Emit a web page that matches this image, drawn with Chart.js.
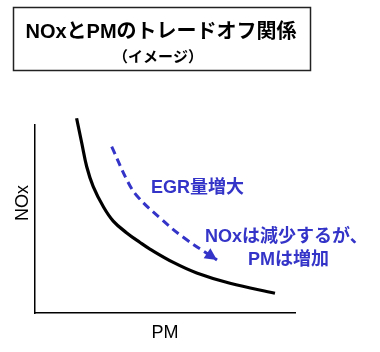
<!DOCTYPE html>
<html>
<head>
<meta charset="utf-8">
<script src="https://cdn.jsdelivr.net/npm/chart.js@4/dist/chart.umd.min.js"></script>
<style>
  html, body { margin: 0; padding: 0; background: #ffffff; }
  #wrap { width: 380px; height: 352px; }
</style>
</head>
<body>
<div id="wrap"><canvas id="c" width="380" height="352"></canvas></div>
<script>
// ---- data (arbitrary "image" units 0-100) ----
const curvePM  = [16.0, 18.0, 19.9, 22.4, 26.3, 30.1, 35.3, 40.4, 44.2, 53.2, 62.2, 75.0, 92.3];
const curveNOx = [103.6, 90.3, 77.8, 67.2, 56.5, 48.9, 42.6, 37.5, 34.0, 26.9, 21.3, 15.8, 10.5];
const arrowPM  = [29.5, 35.9, 39.6, 48.1, 56.9, 70.0];
const arrowNOx = [88.5, 69.3, 61.7, 50.5, 40.4, 28.2];
const titleLines = ['NOxとPMのトレードオフ関係', '（イメージ）'];
const xAxisLabel = 'PM';
const yAxisLabel = 'NOx';
const noteTexts = ['EGR量増大', 'NOxは減少するが、', 'PMは増加'];
const notePM    = [62.5, 96.7, 97.5];
const noteNOx   = [66.5, 40.4, 28.2];

const FONT = "'Liberation Sans', 'Noto Sans CJK JP', sans-serif";
const BLUE = '#3434c8';

const toPts = (xs, ys) => xs.map((x, i) => ({ x: x, y: ys[i] }));

const annotPlugin = {
  id: 'annot',
  afterDatasetsDraw(chart) {
    const ctx = chart.ctx;
    const xs = chart.scales.x, ys = chart.scales.y;
    ctx.save();
    // arrowhead at end of dashed arrow
    const meta = chart.getDatasetMeta(1);
    const n = meta.data.length;
    const p1 = meta.data[n - 2], p2 = meta.data[n - 1];
    const ang = Math.atan2(p2.y - p1.y, p2.x - p1.x);
    const L = 12, W = 6;
    ctx.fillStyle = BLUE;
    ctx.beginPath();
    ctx.moveTo(p2.x, p2.y);
    ctx.lineTo(p2.x - L * Math.cos(ang) + W * Math.sin(ang), p2.y - L * Math.sin(ang) - W * Math.cos(ang));
    ctx.lineTo(p2.x - L * Math.cos(ang) - W * Math.sin(ang), p2.y - L * Math.sin(ang) + W * Math.cos(ang));
    ctx.closePath();
    ctx.fill();

    // blue annotation texts
    ctx.font = "bold 18px " + FONT;
    ctx.textAlign = 'center';
    ctx.textBaseline = 'middle';
    ctx.fillStyle = BLUE;
    noteTexts.forEach((t, i) => {
      ctx.fillText(t, xs.getPixelForValue(notePM[i]), ys.getPixelForValue(noteNOx[i]));
    });

    // y axis label
    ctx.fillStyle = '#000';
    ctx.font = "18px " + FONT;
    ctx.save();
    ctx.translate(23, ys.getPixelForValue(58.5));
    ctx.rotate(-Math.PI / 2);
    ctx.fillText(yAxisLabel, 0, 0);
    ctx.restore();

    // title box
    ctx.strokeStyle = '#222';
    ctx.lineWidth = 1.5;
    ctx.strokeRect(13.5, 7.5, 297, 63);
    ctx.fillStyle = '#000';
    ctx.font = "bold 20px " + FONT;
    ctx.fillText(titleLines[0], 161, 32);
    ctx.font = "bold 15px " + FONT;
    ctx.fillText(titleLines[1], 158, 58);
    ctx.restore();
  }
};

new Chart(document.getElementById('c'), {
  type: 'scatter',
  data: {
    datasets: [
      {
        data: toPts(curvePM, curveNOx),
        showLine: true,
        borderColor: '#000',
        borderWidth: 3.2,
        pointRadius: 0,
        tension: 0.4,
        clip: false
      },
      {
        data: toPts(arrowPM, arrowNOx),
        showLine: true,
        borderColor: BLUE,
        borderWidth: 3,
        borderDash: [8, 5],
        pointRadius: 0,
        tension: 0.4,
        clip: false
      }
    ]
  },
  options: {
    responsive: false,
    devicePixelRatio: 1,
    animation: false,
    layout: { padding: { top: 125, right: 85, left: 0, bottom: 0 } },
    plugins: { legend: { display: false }, tooltip: { enabled: false }, title: { display: false } },
    scales: {
      x: {
        type: 'linear', min: 0, max: 100,
        ticks: { display: false },
        grid: { display: false },
        border: { display: true, color: '#000', width: 1.5 },
        title: { display: true, text: xAxisLabel, color: '#000', font: { family: FONT, size: 18 }, padding: { top: 0, bottom: 8 } },
        afterFit: s => { s.height = 39; }
      },
      y: {
        type: 'linear', min: 0, max: 100,
        ticks: { display: false },
        grid: { display: false },
        border: { display: true, color: '#000', width: 1.5 },
        title: { display: false },
        afterFit: s => { s.width = 35; }
      }
    }
  },
  plugins: [annotPlugin]
});
</script>
</body>
</html>
